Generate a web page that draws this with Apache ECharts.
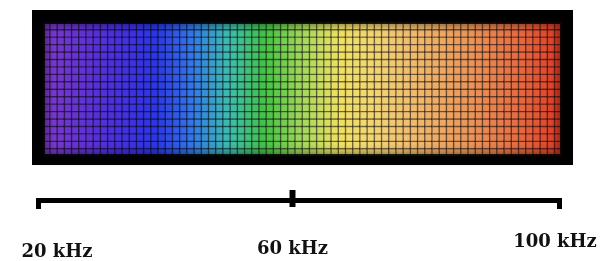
<!DOCTYPE html>
<html lang="en">
<head>
    <meta charset="UTF-8">
    <title>Frequency spectrum</title>
    <script src="https://cdn.jsdelivr.net/npm/echarts@6/dist/echarts.min.js"></script>
    <style>
        html, body { margin: 0; padding: 0; background: #ffffff; }
        #chart { width: 600px; height: 261px; }
    </style>
</head>
<body>
<div id="chart"></div>
<script>
    // grid of coloured cells
    var colCount = 72;
    var rowCount = 18;
    // colours sampled left to right at even steps
    var spectrumColors = ['#7a3ac8', '#6232d2', '#4630de', '#2c36e6', '#3478e6', '#3ebcb0', '#44c244',
        '#a4d85e', '#f0e064', '#f2d474', '#f0bc70', '#eca462', '#e88a54', '#e46840', '#de3c26'];
    // frequency scale underneath
    var tickValues = [20, 59, 100];
    var tickLabels = ['20 kHz', '60 kHz', '100 kHz'];
    var endTicks = [20, 100];
    var midTick = [59];

    var cols = [], rows = [], cells = [];
    for (var i = 0; i < colCount; i++) cols.push(i);
    for (var j = 0; j < rowCount; j++) rows.push(j);
    for (var i = 0; i < colCount; i++) {
        for (var j = 0; j < rowCount; j++) {
            cells.push([i, j, i]);   // value = column, coloured by visualMap
        }
    }

    var labelStyle = {
        fontFamily: 'DejaVu Serif',
        fontWeight: 'bold',
        fontSize: 18,
        color: '#111111'
    };

    var option = {
        backgroundColor: '#ffffff',
        animation: false,
        graphic: [
            {
                type: 'rect',
                z: -10,
                shape: {x: 32, y: 10, width: 541, height: 155},
                style: {fill: '#000000'}
            },
            {
                type: 'rect',
                z: 100,
                shape: {x: 43, y: 22, width: 519, height: 134},
                style: {fill: null, stroke: 'rgba(0,0,0,0.85)', lineWidth: 4, shadowBlur: 8, shadowColor: '#000'}
            }
        ],
        grid: [
            {left: 43, top: 22, width: 519, height: 134},
            {left: 38.5, right: 40.5, top: 190, height: 10.5}
        ],
        xAxis: [
            {
                type: 'category', gridIndex: 0, data: cols, show: false
            },
            {
                type: 'value', gridIndex: 1, min: 20, max: 100,
                splitLine: {show: false},
                axisLine: {show: true, lineStyle: {color: '#000', width: 5, cap: 'square'}},
                axisTick: {show: true, customValues: endTicks, length: 8.5, lineStyle: {color: '#000', width: 5}},
                axisLabel: {
                    show: true,
                    customValues: tickValues,
                    margin: 33,
                    formatter: function (v) {
                        var k = tickValues.indexOf(v);
                        return '{l' + k + '|' + tickLabels[k] + '}';
                    },
                    rich: {
                        l0: Object.assign({padding: [9.5, 0, 0, 37]}, labelStyle),
                        l1: Object.assign({padding: [6.5, 0, 0, 0]}, labelStyle),
                        l2: Object.assign({padding: [0, 9, 0, 0]}, labelStyle)
                    }
                }
            }
        ],
        yAxis: [
            {type: 'category', gridIndex: 0, data: rows, show: false},
            {type: 'value', gridIndex: 1, min: 0, max: 1, show: false}
        ],
        visualMap: {
            show: false,
            min: 0,
            max: colCount - 1,
            seriesIndex: 0,
            inRange: {color: spectrumColors}
        },
        series: [
            {
                type: 'heatmap',
                xAxisIndex: 0,
                yAxisIndex: 0,
                data: cells,
                itemStyle: {borderColor: 'rgba(0,0,0,0.45)', borderWidth: 1.4},
                emphasis: {disabled: true}
            },
            {
                type: 'scatter',
                xAxisIndex: 1,
                yAxisIndex: 1,
                clip: false,
                symbol: 'rect',
                symbolSize: [6, 17],
                symbolOffset: [0, -2],
                itemStyle: {color: '#000', opacity: 1},
                data: midTick.map(function (v) { return [v, 0]; })
            }
        ]
    };
    echarts.init(document.getElementById('chart')).setOption(option);
</script>
</body>
</html>
